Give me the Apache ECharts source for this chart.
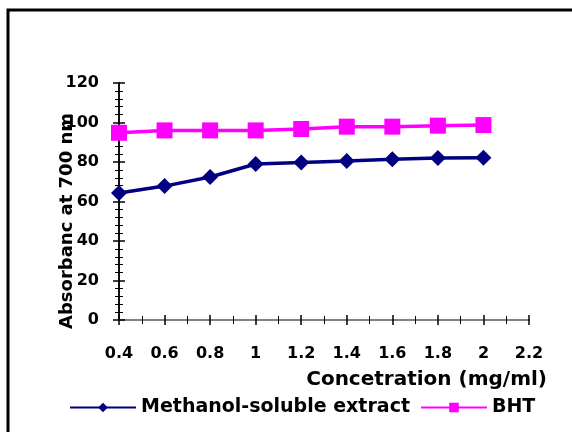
<!DOCTYPE html>
<html>
<head>
<meta charset="utf-8">
<script src="https://cdn.jsdelivr.net/npm/echarts@6/dist/echarts.min.js"></script>
<style>
  html, body { margin: 0; padding: 0; background: #fff; }
  #chart { width: 572px; height: 432px; }
</style>
</head>
<body>
<div id="chart"></div>
<script>
// 数据
const concentration = [0.4, 0.6, 0.8, 1.0, 1.2, 1.4, 1.6, 1.8, 2.0];
const methanolExtract = [64.3, 67.8, 72.4, 79.0, 79.8, 80.5, 81.4, 82.0, 82.2];
const bht = [94.8, 96.0, 96.0, 96.0, 96.7, 97.9, 97.9, 98.4, 98.7];
const seriesNames = ['Methanol-soluble extract', 'BHT'];

const font = 'DejaVu Sans';
const pairs = (ys) => concentration.map((x, i) => [x, ys[i]]);

const chart = echarts.init(document.getElementById('chart'));

// 坐标轴（两层叠加，做出穿过轴线的刻度）
const xBase = {
  type: 'value', min: 0.4, max: 2.2, interval: 0.2,
  axisLine: { show: true, onZero: false, lineStyle: { color: '#808080', width: 2 } },
  splitLine: { show: false },
  minorTick: { show: true, splitNumber: 2, length: 4, lineStyle: { color: '#000', width: 1 } }
};
const yBase = {
  type: 'value', min: 0, max: 120, interval: 20,
  axisLine: { show: true, lineStyle: { color: '#000', width: 1.5 } },
  splitLine: { show: false },
  minorTick: { show: true, splitNumber: 5, length: 4, lineStyle: { color: '#000', width: 1 } }
};

const option = {
  animation: false,
  grid: { left: 119, right: 43, top: 83, bottom: 112 },
  graphic: [
    {
      type: 'polyline',
      shape: { points: [[8, 440], [8, 10], [580, 10]] },
      style: { stroke: '#000', lineWidth: 3, fill: null }
    },
    {
      // 纵轴标题
      type: 'text',
      x: 67, y: 221, rotation: Math.PI / 2,
      style: {
        text: 'Absorbanc at 700 nm',
        fontFamily: font, fontWeight: 'bold', fontSize: 18, fill: '#000',
        align: 'center', verticalAlign: 'middle'
      },
      z: 100
    }
  ],
  title: {
    text: 'Concetration (mg/ml)',
    right: 20, top: 365,
    textStyle: { fontFamily: font, fontWeight: 'bold', fontSize: 20, color: '#000' }
  },
  legend: {
    left: 64, top: 393,
    itemWidth: 66, itemHeight: 12, itemGap: 10,
    data: seriesNames,
    textStyle: { fontFamily: font, fontWeight: 'bold', fontSize: 19, color: '#000' }
  },
  xAxis: [
    Object.assign({}, xBase, {
      axisTick: { show: true, inside: false, length: 5, lineStyle: { color: '#000', width: 1.5 } },
      axisLabel: {
        margin: 26, color: '#000', fontFamily: font, fontWeight: 'bold', fontSize: 16,
        formatter: (v) => String(+v.toFixed(1))
      }
    }),
    Object.assign({}, xBase, {
      position: 'bottom',
      axisTick: { show: true, inside: true, length: 5, lineStyle: { color: '#000', width: 1.5 } },
      axisLabel: { show: false }
    })
  ],
  yAxis: [
    Object.assign({}, yBase, {
      axisTick: { show: true, inside: false, length: 6, lineStyle: { color: '#000', width: 1.5 } },
      axisLabel: { margin: 20, color: '#000', fontFamily: font, fontWeight: 'bold', fontSize: 16 }
    }),
    Object.assign({}, yBase, {
      position: 'left',
      axisTick: { show: true, inside: true, length: 6, lineStyle: { color: '#000', width: 1.5 } },
      axisLabel: { show: false }
    })
  ],
  series: [
    {
      name: seriesNames[0],
      type: 'line',
      data: pairs(methanolExtract),
      symbol: 'diamond', symbolSize: 16,
      lineStyle: { color: '#000080', width: 3.5 },
      itemStyle: { color: '#000080' }
    },
    {
      name: seriesNames[1],
      type: 'line',
      data: pairs(bht),
      symbol: 'rect', symbolSize: 16,
      lineStyle: { color: '#FF00FF', width: 3.5 },
      itemStyle: { color: '#FF00FF' }
    }
  ]
};

chart.setOption(option);
</script>
</body>
</html>
